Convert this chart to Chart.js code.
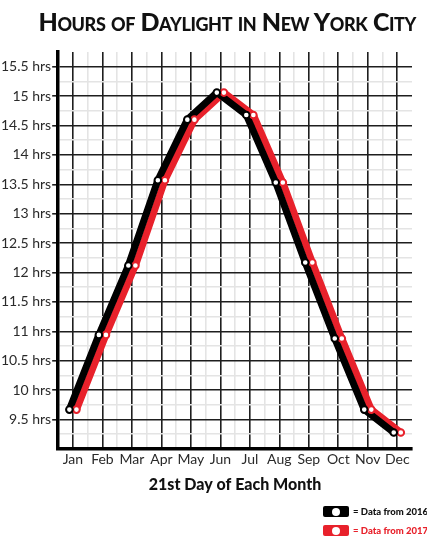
<!DOCTYPE html>
<html>
<head>
<meta charset="utf-8">
<script src="https://cdn.jsdelivr.net/npm/chart.js@4.4.1/dist/chart.umd.min.js"></script>
<style>
  html, body { margin: 0; padding: 0; background: #fff; }
  #wrap { position: relative; width: 427px; height: 536px; overflow: hidden; }
  #title { position: absolute; top: 6px; right: 11px; font-family: Lato, sans-serif; font-weight: 900; font-size: 25px; line-height: 30px; font-variant: small-caps; color: #111; white-space: nowrap; letter-spacing: -0.4px; }
  #legend { position: absolute; left: 323px; top: 505px; font-family: Lato, sans-serif; font-weight: 900; font-size: 9.5px; white-space: nowrap; }
  .row { position: relative; height: 19px; }
  .sw { position: absolute; left: 0; top: 1px; width: 26px; height: 11px; border-radius: 2px; }
  .sw::after { content: ''; position: absolute; left: 8.5px; top: 1.5px; width: 8px; height: 8px; border-radius: 50%; background: #fff; }
  .lt { position: absolute; left: 30px; top: 0; line-height: 13px; }
</style>
</head>
<body>
<div id="wrap">
  <canvas id="c" width="427" height="536"></canvas>
  <div id="title">Hours of Daylight in New York City</div>
  <div id="legend">
    <div class="row"><div class="sw" style="background:#000"></div><div class="lt" style="color:#111">= Data from 2016</div></div>
    <div class="row"><div class="sw" style="background:#e8212b"></div><div class="lt" style="color:#e8212b">= Data from 2017</div></div>
  </div>
</div>
<script>
const months = ['Jan','Feb','Mar','Apr','May','Jun','Jul','Aug','Sep','Oct','Nov','Dec'];
const hours2016 = [9.67, 10.94, 12.12, 13.57, 14.60, 15.06, 14.68, 13.53, 12.17, 10.88, 9.67, 9.28];
const hours2017 = [9.67, 10.94, 12.12, 13.57, 14.60, 15.06, 14.68, 13.53, 12.17, 10.88, 9.67, 9.28];
const yTickValues = [9.5, 10, 10.5, 11, 11.5, 12, 12.5, 13, 13.5, 14, 14.5, 15, 15.5];

const BLACK = '#000000';
const RED = '#e8212b';
const SHIFT = 0.12;

const pts2016 = hours2016.map((v, i) => ({ x: i - SHIFT, y: v }));
const pts2017 = hours2017.map((v, i) => ({ x: i + SHIFT, y: v }));

const MAJOR = '#1e1e1e';
const MINOR = '#e4e4e4';

new Chart(document.getElementById('c'), {
  type: 'line',
  data: {
    datasets: [
      { label: 'Data from 2016 points', data: pts2016, showLine: false, pointRadius: 3.3, pointBorderWidth: 2, pointBackgroundColor: '#fff', pointBorderColor: BLACK, order: 0 },
      { label: 'Data from 2017 points', data: pts2017, showLine: false, pointRadius: 3.3, pointBorderWidth: 2, pointBackgroundColor: '#fff', pointBorderColor: RED, order: 0 },
      { label: 'Data from 2016', data: pts2016, borderColor: BLACK, borderWidth: 7, pointRadius: 0, tension: 0, borderJoinStyle: 'round', borderCapStyle: 'round', order: 1 },
      { label: 'Data from 2017', data: pts2017, borderColor: RED, borderWidth: 7, pointRadius: 0, tension: 0, borderJoinStyle: 'round', borderCapStyle: 'round', order: 2 }
    ]
  },
  options: {
    responsive: false,
    animation: false,
    events: [],
    layout: { padding: { top: 52, left: 0, right: 15, bottom: 42 } },
    plugins: {
      legend: { display: false },
      tooltip: { enabled: false },
      title: { display: false }
    },
    scales: {
      x: {
        type: 'linear',
        min: -0.5,
        max: 11.5,
        border: { display: true, color: '#000', width: 3.5 },
        grid: {
          drawTicks: false,
          lineWidth: 1.6,
          color: (ctx) => {
            const v = ctx.tick ? ctx.tick.value : 0;
            if (v >= 11.5) return 'rgba(0,0,0,0)';
            return Number.isInteger(v) ? MAJOR : MINOR;
          }
        },
        ticks: {
          stepSize: 0.5,
          autoSkip: false,
          maxRotation: 0,
          padding: 2,
          color: '#2a2a2a',
          font: { family: 'Lato', size: 14 },
          callback: (v) => Number.isInteger(v) && v >= 0 && v < months.length ? months[v] : ''
        },
        title: {
          display: true,
          text: '21st Day of Each Month',
          color: '#111',
          font: { family: 'Lato', weight: '900', size: 16 },
          padding: { top: 5, bottom: 0 }
        }
      },
      y: {
        type: 'linear',
        min: 9,
        max: 15.75,
        border: { display: true, color: '#000', width: 3.5 },
        grid: {
          lineWidth: 1.6,
          tickLength: 6,
          color: (ctx) => {
            const v = ctx.tick ? ctx.tick.value : 0;
            if (v >= 15.75) return 'rgba(0,0,0,0)';
            return yTickValues.includes(v) ? MAJOR : MINOR;
          },
          tickColor: (ctx) => {
            const v = ctx.tick ? ctx.tick.value : 0;
            return yTickValues.includes(v) ? MAJOR : 'rgba(0,0,0,0)';
          }
        },
        ticks: {
          stepSize: 0.25,
          autoSkip: false,
          padding: 1,
          color: '#2a2a2a',
          font: { family: 'Lato', size: 14 },
          callback: (v) => yTickValues.includes(v) ? v + ' hrs' : ''
        }
      }
    }
  }
});
</script>
</body>
</html>
